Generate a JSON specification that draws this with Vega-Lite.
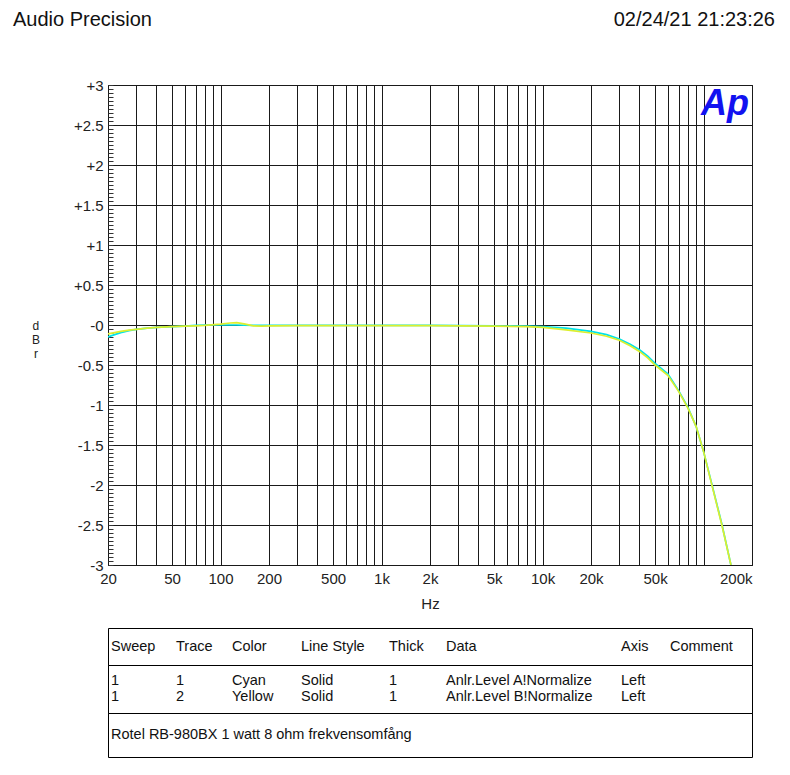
{
  "$schema": "https://vega.github.io/schema/vega-lite/v6.json",
  "description": "Audio Precision frequency response, Rotel RB-980BX 1 watt 8 ohm.",
  "background": "white",
  "padding": {"left": 13, "top": 10, "right": 5, "bottom": 5},
  "bounds": "flush",
  "spacing": 63,
  "config": {
    "font": "Liberation Sans",
    "view": {"stroke": "#000", "strokeWidth": 1},
    "text": {"font": "Liberation Sans", "color": "#111"}
  },
  "datasets": {
    "curves": [
      {"freq": 20, "level": -0.15, "trace": "Anlr.Level A"},
      {"freq": 22, "level": -0.12, "trace": "Anlr.Level A"},
      {"freq": 24, "level": -0.095, "trace": "Anlr.Level A"},
      {"freq": 27, "level": -0.07, "trace": "Anlr.Level A"},
      {"freq": 30, "level": -0.055, "trace": "Anlr.Level A"},
      {"freq": 35, "level": -0.04, "trace": "Anlr.Level A"},
      {"freq": 40, "level": -0.03, "trace": "Anlr.Level A"},
      {"freq": 50, "level": -0.02, "trace": "Anlr.Level A"},
      {"freq": 60, "level": -0.013, "trace": "Anlr.Level A"},
      {"freq": 70, "level": -0.005, "trace": "Anlr.Level A"},
      {"freq": 80, "level": 0.0, "trace": "Anlr.Level A"},
      {"freq": 100, "level": 0.0, "trace": "Anlr.Level A"},
      {"freq": 115, "level": 0.0, "trace": "Anlr.Level A"},
      {"freq": 126, "level": 0.0, "trace": "Anlr.Level A"},
      {"freq": 140, "level": -0.003, "trace": "Anlr.Level A"},
      {"freq": 160, "level": -0.005, "trace": "Anlr.Level A"},
      {"freq": 180, "level": -0.005, "trace": "Anlr.Level A"},
      {"freq": 200, "level": -0.005, "trace": "Anlr.Level A"},
      {"freq": 300, "level": -0.005, "trace": "Anlr.Level A"},
      {"freq": 500, "level": -0.005, "trace": "Anlr.Level A"},
      {"freq": 1000, "level": -0.005, "trace": "Anlr.Level A"},
      {"freq": 2000, "level": -0.005, "trace": "Anlr.Level A"},
      {"freq": 5000, "level": -0.01, "trace": "Anlr.Level A"},
      {"freq": 8000, "level": -0.015, "trace": "Anlr.Level A"},
      {"freq": 10000, "level": -0.02, "trace": "Anlr.Level A"},
      {"freq": 14000, "level": -0.04, "trace": "Anlr.Level A"},
      {"freq": 20000, "level": -0.08, "trace": "Anlr.Level A"},
      {"freq": 25000, "level": -0.12, "trace": "Anlr.Level A"},
      {"freq": 30000, "level": -0.175, "trace": "Anlr.Level A"},
      {"freq": 35000, "level": -0.24, "trace": "Anlr.Level A"},
      {"freq": 40000, "level": -0.31, "trace": "Anlr.Level A"},
      {"freq": 45000, "level": -0.39, "trace": "Anlr.Level A"},
      {"freq": 50000, "level": -0.48, "trace": "Anlr.Level A"},
      {"freq": 60000, "level": -0.61, "trace": "Anlr.Level A"},
      {"freq": 70000, "level": -0.82, "trace": "Anlr.Level A"},
      {"freq": 80000, "level": -1.03, "trace": "Anlr.Level A"},
      {"freq": 90000, "level": -1.27, "trace": "Anlr.Level A"},
      {"freq": 100000, "level": -1.58, "trace": "Anlr.Level A"},
      {"freq": 112000, "level": -1.97, "trace": "Anlr.Level A"},
      {"freq": 130000, "level": -2.49, "trace": "Anlr.Level A"},
      {"freq": 148000, "level": -3.0, "trace": "Anlr.Level A"},
      {"freq": 20, "level": -0.11, "trace": "Anlr.Level B"},
      {"freq": 22, "level": -0.095, "trace": "Anlr.Level B"},
      {"freq": 24, "level": -0.08, "trace": "Anlr.Level B"},
      {"freq": 27, "level": -0.065, "trace": "Anlr.Level B"},
      {"freq": 30, "level": -0.055, "trace": "Anlr.Level B"},
      {"freq": 35, "level": -0.04, "trace": "Anlr.Level B"},
      {"freq": 40, "level": -0.03, "trace": "Anlr.Level B"},
      {"freq": 50, "level": -0.02, "trace": "Anlr.Level B"},
      {"freq": 60, "level": -0.015, "trace": "Anlr.Level B"},
      {"freq": 70, "level": -0.01, "trace": "Anlr.Level B"},
      {"freq": 80, "level": -0.005, "trace": "Anlr.Level B"},
      {"freq": 100, "level": 0.01, "trace": "Anlr.Level B"},
      {"freq": 115, "level": 0.025, "trace": "Anlr.Level B"},
      {"freq": 126, "level": 0.03, "trace": "Anlr.Level B"},
      {"freq": 140, "level": 0.015, "trace": "Anlr.Level B"},
      {"freq": 160, "level": -0.01, "trace": "Anlr.Level B"},
      {"freq": 180, "level": -0.015, "trace": "Anlr.Level B"},
      {"freq": 200, "level": -0.012, "trace": "Anlr.Level B"},
      {"freq": 300, "level": -0.008, "trace": "Anlr.Level B"},
      {"freq": 500, "level": -0.008, "trace": "Anlr.Level B"},
      {"freq": 1000, "level": -0.008, "trace": "Anlr.Level B"},
      {"freq": 2000, "level": -0.008, "trace": "Anlr.Level B"},
      {"freq": 5000, "level": -0.015, "trace": "Anlr.Level B"},
      {"freq": 8000, "level": -0.02, "trace": "Anlr.Level B"},
      {"freq": 10000, "level": -0.03, "trace": "Anlr.Level B"},
      {"freq": 14000, "level": -0.06, "trace": "Anlr.Level B"},
      {"freq": 20000, "level": -0.1, "trace": "Anlr.Level B"},
      {"freq": 25000, "level": -0.14, "trace": "Anlr.Level B"},
      {"freq": 30000, "level": -0.19, "trace": "Anlr.Level B"},
      {"freq": 35000, "level": -0.26, "trace": "Anlr.Level B"},
      {"freq": 40000, "level": -0.33, "trace": "Anlr.Level B"},
      {"freq": 45000, "level": -0.41, "trace": "Anlr.Level B"},
      {"freq": 50000, "level": -0.5, "trace": "Anlr.Level B"},
      {"freq": 60000, "level": -0.63, "trace": "Anlr.Level B"},
      {"freq": 70000, "level": -0.83, "trace": "Anlr.Level B"},
      {"freq": 80000, "level": -1.04, "trace": "Anlr.Level B"},
      {"freq": 90000, "level": -1.27, "trace": "Anlr.Level B"},
      {"freq": 100000, "level": -1.58, "trace": "Anlr.Level B"},
      {"freq": 112000, "level": -1.98, "trace": "Anlr.Level B"},
      {"freq": 130000, "level": -2.5, "trace": "Anlr.Level B"},
      {"freq": 148000, "level": -3.0, "trace": "Anlr.Level B"}
    ],
    "columns": [
      {"name": "Sweep", "col": 1},
      {"name": "Trace", "col": 2},
      {"name": "Color", "col": 3},
      {"name": "Line Style", "col": 4},
      {"name": "Thick", "col": 5},
      {"name": "Data", "col": 6},
      {"name": "Axis", "col": 7},
      {"name": "Comment", "col": 8}
    ],
    "traces": [
      {"Sweep": "1", "Trace": "1", "Color": "Cyan", "Line Style": "Solid", "Thick": "1", "Data": "Anlr.Level A!Normalize", "Axis": "Left", "Comment": ""},
      {"Sweep": "1", "Trace": "2", "Color": "Yellow", "Line Style": "Solid", "Thick": "1", "Data": "Anlr.Level B!Normalize", "Axis": "Left", "Comment": ""}
    ]
  },
  "vconcat": [
    {
      "width": 644,
      "height": 4,
      "view": {"stroke": null},
      "data": {"values": [
        {"side": "left", "label": "Audio Precision"},
        {"side": "right", "label": "02/24/21 21:23:26"}
      ]},
      "encoding": {
        "x": {"field": "side", "type": "nominal", "axis": null,
          "scale": {"type": "point", "domain": ["left", "right"], "range": [-95, 667], "padding": 0}},
        "text": {"field": "label"}
      },
      "layer": [
        {"transform": [{"filter": "datum.side === 'left'"}],
         "mark": {"type": "text", "align": "left", "baseline": "middle", "fontSize": 20}},
        {"transform": [{"filter": "datum.side === 'right'"}],
         "mark": {"type": "text", "align": "right", "baseline": "middle", "fontSize": 20}}
      ]
    },
    {
      "width": 644,
      "height": 480,
      "layer": [
        {
          "data": {"name": "curves"},
          "mark": {"type": "line", "strokeWidth": 1.7, "clip": true},
          "encoding": {
            "x": {
              "field": "freq", "type": "quantitative",
              "scale": {"type": "log", "domain": [20, 200000], "nice": false},
              "axis": {
                "title": "Hz",
                "values": [20, 30, 40, 50, 60, 70, 80, 90, 100, 200, 300, 400, 500, 600, 700, 800, 900, 1000, 2000, 3000, 4000, 5000, 6000, 7000, 8000, 9000, 10000, 20000, 30000, 40000, 50000, 60000, 70000, 80000, 90000, 100000, 200000],
                "tickCount": 100,
                "labelExpr": "indexof([20, 50, 100, 200, 500, 1000, 2000, 5000, 10000, 20000, 50000, 200000], datum.value) < 0 ? '' : (datum.value >= 1000 ? (datum.value / 1000) + 'k' : '' + datum.value)",
                "labelAlign": {"condition": {"test": "datum.value > 150000", "value": "right"}, "value": "center"},
                "labelFlush": false,
                "labelOverlap": false,
                "labelFontSize": 15,
                "labelColor": "#222",
                "labelPadding": 6,
                "grid": true,
                "gridColor": "#1a1a1a",
                "gridOpacity": 1,
                "gridWidth": 1,
                "ticks": false,
                "domain": false,
                "titleFontSize": 15,
                "titleFontWeight": "normal",
                "titleColor": "#222",
                "titlePadding": 10
              }
            },
            "y": {
              "field": "level", "type": "quantitative",
              "scale": {"domain": [-3, 3], "nice": false, "zero": false},
              "axis": {
                "orient": "left",
                "offset": -5,
                "title": ["d", "B", "r"],
                "titleAngle": 0,
                "titleAlign": "center",
                "titleBaseline": "middle",
                "titleFontSize": 12,
                "titleFontWeight": "normal",
                "titleLineHeight": 14,
                "titleColor": "#222",
                "titlePadding": 10,
                "tickCount": 200,
                "values": [-3, -2.95, -2.9, -2.85, -2.8, -2.75, -2.7, -2.65, -2.6, -2.55, -2.5, -2.45, -2.4, -2.35, -2.3, -2.25, -2.2, -2.15, -2.1, -2.05, -2, -1.95, -1.9, -1.85, -1.8, -1.75, -1.7, -1.65, -1.6, -1.55, -1.5, -1.45, -1.4, -1.35, -1.3, -1.25, -1.2, -1.15, -1.1, -1.05, -1, -0.95, -0.9, -0.85, -0.8, -0.75, -0.7, -0.65, -0.6, -0.55, -0.5, -0.45, -0.4, -0.35, -0.3, -0.25, -0.2, -0.15, -0.1, -0.05, 0, 0.05, 0.1, 0.15, 0.2, 0.25, 0.3, 0.35, 0.4, 0.45, 0.5, 0.55, 0.6, 0.65, 0.7, 0.75, 0.8, 0.85, 0.9, 0.95, 1, 1.05, 1.1, 1.15, 1.2, 1.25, 1.3, 1.35, 1.4, 1.45, 1.5, 1.55, 1.6, 1.65, 1.7, 1.75, 1.8, 1.85, 1.9, 1.95, 2, 2.05, 2.1, 2.15, 2.2, 2.25, 2.3, 2.35, 2.4, 2.45, 2.5, 2.55, 2.6, 2.65, 2.7, 2.75, 2.8, 2.85, 2.9, 2.95, 3],
                "grid": true,
                "gridColor": "#1a1a1a",
                "gridWidth": 1,
                "gridOpacity": {"condition": {"test": "abs(datum.value * 2 - round(datum.value * 2)) < 0.01", "value": 1}, "value": 0},
                "ticks": true,
                "tickSize": 5,
                "tickColor": "#333",
                "tickWidth": 1,
                "labelExpr": "abs(datum.value * 2 - round(datum.value * 2)) > 0.01 ? '' : (datum.value > 0.01 ? '+' + (round(datum.value * 2) / 2) : (abs(datum.value) < 0.01 ? '-0' : '' + (round(datum.value * 2) / 2)))",
                "labelOverlap": false,
                "labelFontSize": 15,
                "labelColor": "#222",
                "labelPadding": 5,
                "domain": false
              }
            },
            "color": {
              "field": "trace", "type": "nominal",
              "scale": {"domain": ["Anlr.Level A", "Anlr.Level B"], "range": ["#00e2ea", "#dcef2e"]},
              "legend": null
            }
          }
        },
        {
          "data": {"values": [{"logo": "Ap"}]},
          "mark": {"type": "text", "fontStyle": "italic", "fontWeight": "bold", "fontSize": 36, "color": "#1212f0", "align": "center", "baseline": "alphabetic"},
          "encoding": {
            "x": {"datum": 136000, "type": "quantitative", "title": "Hz"},
            "y": {"datum": 2.62, "type": "quantitative", "title": ["d", "B", "r"]},
            "text": {"field": "logo"}
          }
        }
      ]
    },
    {
      "spacing": 0,
      "bounds": "flush",
      "vconcat": [
        {
          "width": 644,
          "height": 37,
          "data": {"name": "columns"},
          "mark": {"type": "text", "align": "left", "baseline": "middle", "fontSize": 14.5},
          "encoding": {
            "x": {"field": "col", "type": "quantitative", "axis": null,
              "scale": {"domain": [1, 2, 3, 4, 5, 6, 7, 8], "range": [3, 68, 124, 193, 281, 338, 513, 562], "nice": false, "zero": false}},
            "text": {"field": "name"}
          }
        },
        {
          "width": 644,
          "height": 48,
          "data": {"name": "traces"},
          "transform": [
            {"fold": ["Sweep", "Trace", "Color", "Line Style", "Thick", "Data", "Axis", "Comment"], "as": ["key", "value"]},
            {"lookup": "key", "from": {"data": {"name": "columns"}, "key": "name", "fields": ["col"]}}
          ],
          "mark": {"type": "text", "align": "left", "baseline": "middle", "fontSize": 14.5},
          "encoding": {
            "x": {"field": "col", "type": "quantitative", "axis": null,
              "scale": {"domain": [1, 2, 3, 4, 5, 6, 7, 8], "range": [3, 68, 124, 193, 281, 338, 513, 562], "nice": false, "zero": false}},
            "y": {"field": "Trace", "type": "nominal", "axis": null, "scale": {"type": "point", "padding": 1}},
            "text": {"field": "value"}
          }
        },
        {
          "width": 644,
          "height": 44,
          "data": {"values": [{"note": "Rotel RB-980BX 1 watt 8 ohm frekvensomfång"}]},
          "mark": {"type": "text", "align": "left", "baseline": "middle", "fontSize": 14.5},
          "encoding": {
            "x": {"datum": 1, "type": "quantitative", "axis": null,
              "scale": {"domain": [1, 2, 3, 4, 5, 6, 7, 8], "range": [3, 68, 124, 193, 281, 338, 513, 562], "nice": false, "zero": false}},
            "text": {"field": "note"}
          }
        }
      ]
    }
  ]
}
